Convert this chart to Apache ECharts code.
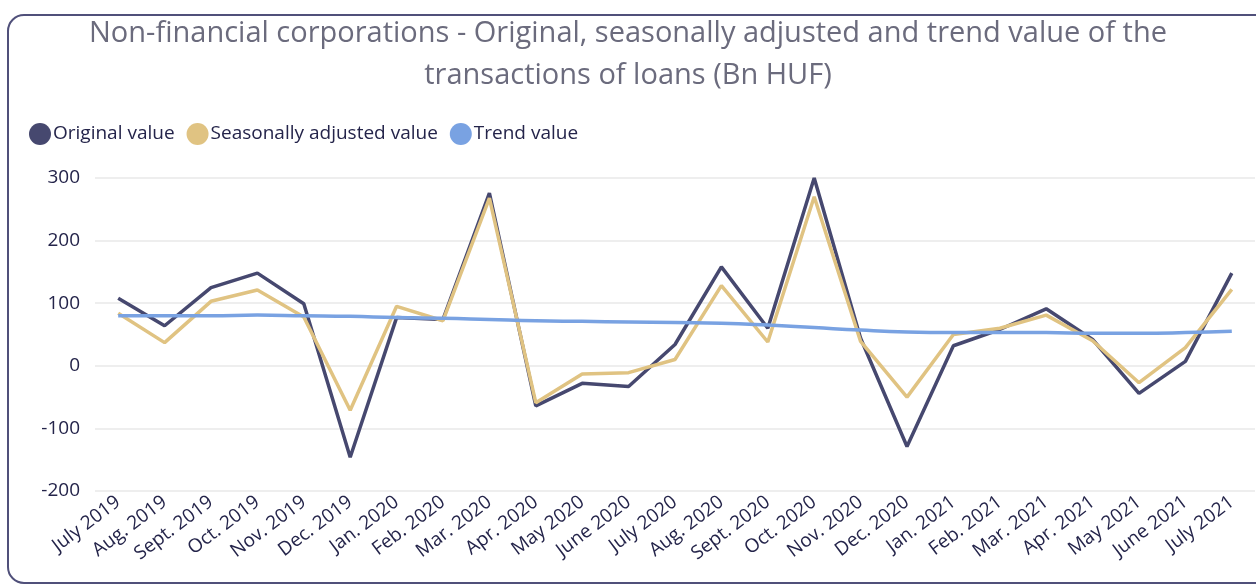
<!DOCTYPE html>
<html>
<head>
<meta charset="utf-8">
<script src="https://cdn.jsdelivr.net/npm/echarts@6/dist/echarts.min.js"></script>
<style>
  html, body { margin: 0; padding: 0; background: #fff; }
  #chart { width: 1256px; height: 588px; }
</style>
</head>
<body>
<div id="chart"></div>
<script>
var months = ['July 2019', 'Aug. 2019', 'Sept. 2019', 'Oct. 2019', 'Nov. 2019', 'Dec. 2019',
    'Jan. 2020', 'Feb. 2020', 'Mar. 2020', 'Apr. 2020', 'May 2020', 'June 2020', 'July 2020',
    'Aug. 2020', 'Sept. 2020', 'Oct. 2020', 'Nov. 2020', 'Dec. 2020', 'Jan. 2021', 'Feb. 2021',
    'Mar. 2021', 'Apr. 2021', 'May 2021', 'June 2021', 'July 2021'];

var original = [108, 64, 125, 148, 99, -146, 77, 74, 276, -64, -28, -33, 34,
    158, 60, 300, 44, -129, 32, 58, 91, 42, -44, 7, 148];

var seasonal = [84, 37, 103, 121, 78, -71, 95, 72, 268, -59, -13, -11, 10,
    128, 38, 270, 39, -50, 50, 60, 81, 40, -27, 29, 122];

var trend = [80, 80, 80, 81, 80, 79, 77, 76, 74, 72, 71, 70, 69,
    68, 65, 61, 57, 54, 53, 53, 53, 52, 52, 53, 55];

var yTicks = [-200, 300, 100];

window.onload = function() {
    var myChart = echarts.init(document.getElementById('chart'));
    var font = 'Open Sans';
    var option = {
        backgroundColor: '#fff',
        animation: false,
        graphic: [{
            type: 'rect',
            shape: { x: 8, y: 15, width: 1262, height: 568, r: 16 },
            style: { fill: 'none', stroke: '#50507a', lineWidth: 2 },
            z: -1
        }],
        title: {
            text: 'Non-financial corporations - Original, seasonally adjusted and trend value of the\ntransactions of loans (Bn HUF)',
            left: 'center',
            top: 8,
            textStyle: {
                fontFamily: font,
                fontWeight: 'normal',
                fontSize: 29,
                lineHeight: 42,
                color: '#6b6b7d'
            }
        },
        legend: {
            left: 24,
            top: 118,
            icon: 'circle',
            itemWidth: 22,
            itemHeight: 22,
            itemGap: 12,
            textStyle: { fontFamily: font, fontSize: 19, color: '#24244a', padding: [0, 0, 0, -3] },
            data: ['Original value', 'Seasonally adjusted value', 'Trend value']
        },
        grid: { left: 95, right: 1, top: 178, bottom: 97 },
        xAxis: {
            type: 'category',
            data: months,
            boundaryGap: true,
            axisLine: { show: false },
            axisTick: { show: false },
            axisLabel: {
                rotate: 37,
                interval: 0,
                margin: 9,
                fontFamily: font,
                fontSize: 19,
                color: '#24244a'
            }
        },
        yAxis: {
            type: 'value',
            min: yTicks[0],
            max: yTicks[1],
            interval: yTicks[2],
            axisLine: { show: false },
            axisTick: { show: false },
            axisLabel: { fontFamily: font, fontSize: 19, color: '#24244a', margin: 15 },
            splitLine: { lineStyle: { color: '#eeeeee', width: 2 } }
        },
        series: [{
            name: 'Original value',
            type: 'line',
            data: original,
            showSymbol: false,
            itemStyle: { color: '#46486f' },
            lineStyle: { width: 3.5, color: '#46486f' }
        }, {
            name: 'Seasonally adjusted value',
            type: 'line',
            data: seasonal,
            showSymbol: false,
            itemStyle: { color: '#e0c382' },
            lineStyle: { width: 3.5, color: '#e0c382' }
        }, {
            name: 'Trend value',
            type: 'line',
            data: trend,
            showSymbol: false,
            smooth: true,
            itemStyle: { color: '#79a2e2' },
            lineStyle: { width: 3.5, color: '#79a2e2' }
        }]
    };
    myChart.setOption(option);
};
</script>
</body>
</html>
